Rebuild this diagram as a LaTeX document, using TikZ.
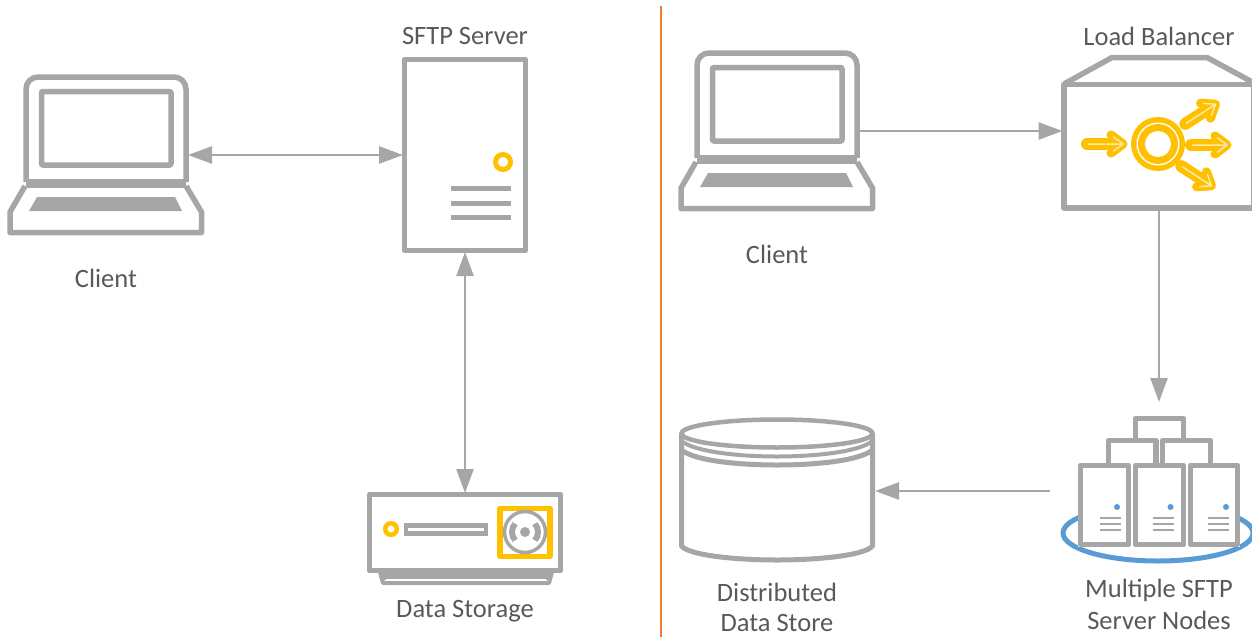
\documentclass[tikz,border=0pt]{standalone}
\usepackage{fontspec}
\setmainfont{Carlito}
\usetikzlibrary{arrows.meta,calc}
\definecolor{gr}{HTML}{A6A6A6}
\definecolor{yl}{HTML}{FFC000}
\definecolor{bl}{HTML}{5B9BD5}
\definecolor{og}{HTML}{ED7D31}
\definecolor{tx}{HTML}{595959}
\definecolor{pale}{HTML}{FFE9A8}
\tikzset{
  icon/.style={draw=gr,line width=5.5pt,line join=round},
  phantomnode/.style={inner sep=0pt,outer sep=0pt,minimum height=1pt},
  boxnode/.style={icon,fill=white,inner sep=0pt,outer sep=1.5pt},
  link/.style={draw=gr,line width=2.6pt,-{Triangle[length=24pt,width=17pt]}},
  duplex/.style={draw=gr,line width=2.6pt,{Triangle[length=24pt,width=17pt]}-{Triangle[length=24pt,width=17pt]}},
  label/.style={text=tx,font=\fontsize{26.5}{32}\selectfont,align=center,inner sep=0pt},
  yarrowa/.style={draw=yl,line width=12pt,line cap=round},
  yarrowb/.style={draw=yl,line width=9pt,line join=round,line cap=round},
  yarrowc/.style={draw=pale,line width=1.5pt,line join=round},
}
\newcommand{\laptopicon}[2]{%
  \begin{scope}[shift={(#1,#2)}]
    \draw[icon,rounded corners=12pt] (26,182)--(26,77)--(186,77)--(186,182);
    \draw[icon,rounded corners=1pt] (41.5,91.5) rectangle (171,165);
    \draw[icon,line width=9pt] (26,183.5)--(186,183.5);
    \draw[icon] (25,186)--(10,212)--(10,232.5)--(201.5,232.5)--(201.5,212)--(186,186);
    \fill[gr] (37,197)--(175,197)--(182,211)--(29,211)--cycle;
  \end{scope}}
\newcommand{\yarrow}[3]{%
  \begin{scope}[shift={(#1,#2)},x={(#3:1pt)},y={(#3-90:1pt)}]
    \draw[yarrowa] (4,0)--(34,0);
    \draw[yarrowb] (28,-9)--(40,0)--(28,9);
    \draw[yarrowc] (5,0)--(40,0) (30,-7.5)--(40,0)--(30,7.5);
  \end{scope}}
\begin{document}
\begin{tikzpicture}[x=1pt,y=-1pt]
\useasboundingbox (0,0) rectangle (1252,637);
\clip (0,0) rectangle (1252,637);

% divider
\draw[og,line width=2pt] (660.5,6)--(660.5,637);

% left side
\laptopicon{0}{0}
\node[phantomnode,minimum width=165pt] (lapa) at (105.5,155) {};
\node[boxnode,minimum width=121pt,minimum height=191pt] (srv) at (465,155) {};
\draw[yl,line width=5pt] (503,162) circle (7.5pt);
\foreach \yy in {188,203,217} \draw[gr,line width=5pt] (450.5,\yy)--(510.5,\yy);

% storage
\draw[gr,line width=4pt,line join=round] (380,572)--(383,583)--(549,583)--(552,572);
\fill[gr] (380,572) rectangle (552,580);
\node[boxnode,minimum width=191pt,minimum height=76pt] (sto) at (465,532.5) {};
\fill[white] (386,578.5) rectangle (546,580.5);
\fill[gr] (404,523) rectangle (488,536);
\fill[white] (408,528) rectangle (484,531);
\draw[yl,line width=4.5pt] (391,529) circle (5.8pt);
\draw[yl,line width=5.5pt,line join=round] (500,508.5) rectangle (550,556.5);
\draw[gr,line width=3.5pt] (525,532) circle (20.5pt);
\fill[gr] (525,532) circle (5pt);
\draw[gr,line width=6pt] (525,532) ++(140:13pt) arc[start angle=140,end angle=220,radius=13pt];
\draw[gr,line width=6pt] (525,532) ++(-40:13pt) arc[start angle=-40,end angle=40,radius=13pt];

\draw[duplex] (lapa.east)--(srv.west);
\draw[duplex] (srv.south)--(sto.north);

% right side
\laptopicon{671}{-24}
\node[phantomnode,minimum width=166pt] (lapb) at (776,131) {};

\draw[icon] (1064,84)--(1112,57.5)--(1207,57.5)--(1256,84);
\node[boxnode,minimum width=190pt,minimum height=123.5pt] (lb) at (1159,146) {};
\fill[yl] (1158,144) circle (27pt);
\fill[white] (1158,144) circle (21.5pt);
\fill[yl] (1158,144) circle (20pt);
\fill[white] (1158,144) circle (13pt);
\yarrow{1083}{144}{0}
\yarrow{1187}{145}{0}
\yarrow{1182}{126}{33}
\yarrow{1178}{164}{-33}

% nodes cluster
\node[phantomnode,minimum width=218pt,minimum height=178pt] (nodes) at (1159,491) {};
\draw[bl,line width=5pt] (1158,533) ellipse (95pt and 28pt);
\fill[white] (1078,463) rectangle (1240,547);
\draw[icon,fill=white] (1135.5,463)--(1135.5,418.5)--(1183.5,418.5)--(1183.5,463);
\draw[icon,fill=white] (1108.5,463)--(1108.5,440.5)--(1156,440.5)--(1156,463);
\draw[icon,fill=white] (1162.5,463)--(1162.5,440.5)--(1210.5,440.5)--(1210.5,463);
\foreach \xa/\xb/\xd/\xl in {1080.5/1128.5/1117/1100,1135.5/1183.5/1170.5/1153,1190.5/1237.5/1226/1208}{
  \draw[icon,fill=white] (\xa,465.5) rectangle (\xb,544.5);
  \fill[bl] (\xd,507) circle (3pt);
  \foreach \yy in {517.5,523.5,529.5} \draw[gr,line width=2pt] (\xl,\yy)--++(20.5,0);
}

% cylinder
\node[phantomnode,minimum width=196pt,minimum height=145pt] (cyl) at (777,489.5) {};
\draw[icon,line width=5pt] (681.5,433)--(681.5,546) .. controls (690,556) and (740,560) .. (777,560) .. controls (814,560) and (864,556) .. (872.5,546)--(872.5,433);
\draw[gr,line width=4.5pt] (777,433.5) ellipse (95.5pt and 14pt);
\draw[gr,line width=4pt] (681.5,441) .. controls (695,452) and (740,456.5) .. (777,456.5) .. controls (814,456.5) and (859,452) .. (872.5,441);
\draw[gr,line width=5pt] (681.5,450) .. controls (695,461) and (740,465) .. (777,465) .. controls (814,465) and (859,461) .. (872.5,450);

\draw[link] (lapb.east)--(lapb.east -| lb.west);
\draw[link] (lb.south)--(nodes.north);
\draw[link] (nodes.west)--(nodes.west -| cyl.east);

% labels
\node[label] (t1) at (465,36) {SFTP Server};
\node[label] (t2) at (106,278) {Client};
\node[label] (t3) at (465,611) {Data Storage};
\node[label] (t4) at (1159,36) {Load Balancer};
\node[label] (t5) at (777,254) {Client};
\node[label,font=\fontsize{26.5}{30}\selectfont] (t6) at (777,607.5) {Distributed\\Data Store};
\node[label] (t7) at (1159,604.5) {Multiple SFTP\\Server Nodes};
\end{tikzpicture}
\end{document}
